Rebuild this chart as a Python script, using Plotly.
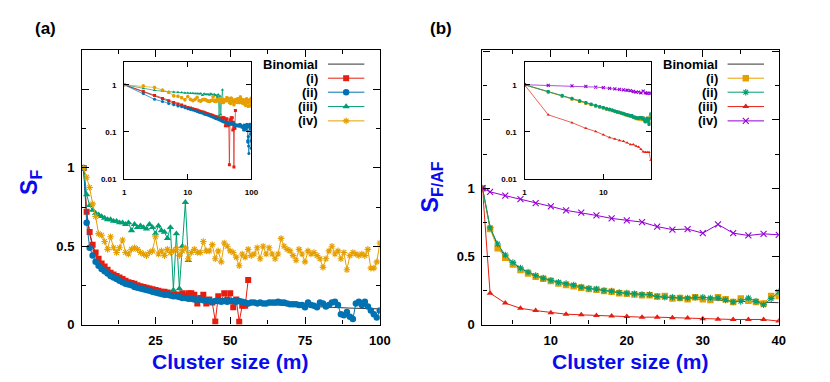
import plotly.graph_objects as go

W, H = 830, 382

# ---------------- panel (a) data ----------------
m_a = list(range(1, 101))

binom_m_a = [1, 2, 3, 4, 5, 6, 7, 8, 9, 10, 12, 14, 16, 18, 20, 25, 30, 35, 40, 50, 60, 70, 80, 90, 100]
binom_a = [1.0, 0.71, 0.58, 0.5, 0.45, 0.41, 0.38, 0.355, 0.335, 0.317, 0.29, 0.268, 0.25, 0.236, 0.224,
           0.2, 0.183, 0.169, 0.158, 0.141, 0.129, 0.12, 0.112, 0.105, 0.1]

a_i_m = list(range(1, 57))
a_i = [1.00, 0.72, 0.59, 0.51, 0.46, 0.42, 0.39, 0.37, 0.35, 0.33,
       0.32, 0.31, 0.30, 0.29, 0.28, 0.27, 0.265, 0.26, 0.25, 0.245,
       0.24, 0.235, 0.23, 0.225, 0.22, 0.215, 0.21, 0.21, 0.205, 0.20,
       0.195, 0.19, 0.19, 0.20, 0.185, 0.20, 0.20, 0.19, 0.135, 0.17,
       0.19, 0.135, 0.16, 0.14, 0.02, 0.18, 0.15, 0.20, 0.16, 0.20,
       0.11, 0.16, 0.018, 0.12, 0.12, 0.285]

a_ii = [1.00, 0.65, 0.49, 0.44, 0.40, 0.375, 0.355, 0.34, 0.325, 0.31,
        0.30, 0.29, 0.28, 0.27, 0.26, 0.255, 0.25, 0.24, 0.235, 0.23,
        0.225, 0.22, 0.215, 0.21, 0.205, 0.20, 0.195, 0.19, 0.19, 0.185,
        0.18, 0.18, 0.175, 0.17, 0.17, 0.165, 0.165, 0.16, 0.16, 0.16,
        0.155, 0.155, 0.15, 0.145, 0.15, 0.15, 0.145, 0.15, 0.145, 0.15,
        0.15, 0.145, 0.15, 0.145, 0.14, 0.135, 0.14, 0.14, 0.135, 0.14,
        0.135, 0.135, 0.14, 0.14, 0.14, 0.145, 0.14, 0.14, 0.135, 0.13,
        0.13, 0.13, 0.125, 0.125, 0.11, 0.14, 0.125, 0.12, 0.11, 0.14,
        0.135, 0.115, 0.125, 0.14, 0.145, 0.125, 0.065, 0.06, 0.08, 0.05,
        0.035, 0.135, 0.145, 0.125, 0.145, 0.115, 0.09, 0.065, 0.045, 0.09]

a_iii_m = list(range(1, 37))
a_iii = [1.00, 0.83, 0.76, 0.73, 0.71, 0.70, 0.69, 0.68, 0.67, 0.67,
         0.66, 0.66, 0.65, 0.65, 0.64, 0.65, 0.60, 0.64, 0.62, 0.63,
         0.62, 0.61, 0.64, 0.62, 0.58, 0.63, 0.60, 0.59, 0.55, 0.62,
         0.22, 0.58, 0.23, 0.50, 0.78, 0.41]

a_iv = [1.00, 0.94, 0.875, 0.77, 0.69, 0.58, 0.57, 0.53, 0.48, 0.56,
        0.49, 0.46, 0.49, 0.54, 0.46, 0.45, 0.48, 0.49, 0.48, 0.46,
        0.45, 0.44, 0.46, 0.47, 0.56, 0.45, 0.47, 0.44, 0.48, 0.46,
        0.47, 0.48, 0.44, 0.47, 0.49, 0.42, 0.46, 0.48, 0.46, 0.46,
        0.53, 0.47, 0.47, 0.51, 0.42, 0.47, 0.40, 0.52, 0.50, 0.47,
        0.46, 0.43, 0.375, 0.45, 0.43, 0.48, 0.44, 0.45, 0.49, 0.42,
        0.50, 0.45, 0.49, 0.45, 0.42, 0.45, 0.55, 0.50, 0.48, 0.47,
        0.44, 0.41, 0.48, 0.45, 0.40, 0.47, 0.45, 0.46, 0.44, 0.42,
        0.365, 0.42, 0.47, 0.50, 0.45, 0.47, 0.42, 0.46, 0.35, 0.44,
        0.46, 0.45, 0.44, 0.45, 0.44, 0.48, 0.36, 0.36, 0.40, 0.52]

# ---------------- panel (b) data ----------------
m_b = list(range(1, 41))
m_b_even = [1] + list(range(2, 41, 2))

binom_m_b = [1, 2, 3, 4, 5, 6, 8, 10, 12, 15, 20, 25, 30, 35, 40]
binom_b = [1.0, 0.71, 0.58, 0.5, 0.45, 0.41, 0.355, 0.32, 0.29, 0.26, 0.225, 0.2, 0.183, 0.17, 0.16]

b_i = [1.00, 0.70, 0.56, 0.49, 0.44, 0.40, 0.375, 0.35, 0.335, 0.32,
       0.30, 0.29, 0.28, 0.27, 0.26, 0.255, 0.245, 0.24, 0.23, 0.225,
       0.22, 0.215, 0.215, 0.205, 0.21, 0.19, 0.195, 0.185, 0.20, 0.185,
       0.18, 0.20, 0.185, 0.165, 0.19, 0.175, 0.165, 0.155, 0.21, 0.21]

b_ii = [1.00, 0.71, 0.59, 0.51, 0.455, 0.415, 0.385, 0.36, 0.34, 0.325,
        0.31, 0.30, 0.29, 0.275, 0.265, 0.26, 0.25, 0.245, 0.235, 0.23,
        0.225, 0.22, 0.22, 0.205, 0.20, 0.20, 0.195, 0.195, 0.20, 0.20,
        0.195, 0.195, 0.18, 0.165, 0.17, 0.195, 0.17, 0.145, 0.19, 0.24]

b_iii = [1.0, 0.23, 0.157, 0.119, 0.102, 0.087, 0.076, 0.071, 0.066, 0.063, 0.059,
         0.054, 0.054, 0.050, 0.048, 0.043, 0.038, 0.037, 0.037, 0.037, 0.025]

b_iv = [1.0, 0.973, 0.945, 0.92, 0.89, 0.866, 0.837, 0.82, 0.80, 0.778, 0.763,
        0.751, 0.718, 0.696, 0.70, 0.67, 0.734, 0.67, 0.653, 0.665, 0.658]

labels = ["Binomial", "(i)", "(ii)", "(iii)", "(iv)"]

RED, BLUE, GREEN, ORANGE, PURPLE, GREY = "#e51e10", "#0072b2", "#009e73", "#e69f00", "#9400d3", "#333333"
FONT = "Liberation Sans, Arial, sans-serif"
TITLE_BLUE = "#0a0aee"

# style per series: (color, symbol, main size)
style_a = [(GREY, None, 0), (RED, "square", 6), (BLUE, "circle", 6.5),
           (GREEN, "triangle-up", 6.5), (ORANGE, "asterisk-open", 5.5)]
style_b = [(GREY, None, 0), (ORANGE, "square", 6.5), (GREEN, "asterisk-open", 5.5),
           (RED, "triangle-up", 6), (PURPLE, "x-thin-open", 6)]

series_a = [(binom_m_a, binom_a), (a_i_m, a_i), (m_a, a_ii), (a_iii_m, a_iii), (m_a, a_iv)]
series_b = [(binom_m_b, binom_b), (m_b, b_i), (m_b, b_ii), (m_b_even, b_iii), (m_b_even, b_iv)]


def px(x):
    return x / W


def py(y):
    return 1 - y / H


fig = go.Figure()


def marker_style(col, sym, size):
    open_sym = sym.endswith("open")
    return dict(symbol=sym, size=size, color=col,
                line=dict(color=col, width=1.1 if open_sym else 0))


def add_series(series, styles, xa, ya, small):
    for (xs, ys), (col, sym, size) in zip(series, styles):
        lw = 0.7 if small else 1
        if sym is None:
            fig.add_trace(go.Scatter(x=xs, y=ys, mode="lines", line=dict(color=col, width=lw),
                                     xaxis=xa, yaxis=ya, showlegend=False, hoverinfo="skip"))
            continue
        msize = 3 if small else size
        fig.add_trace(go.Scatter(
            x=xs, y=ys, mode="lines+markers", line=dict(color=col, width=lw),
            marker=marker_style(col, sym, msize),
            xaxis=xa, yaxis=ya, showlegend=False, hoverinfo="skip"))


add_series(series_a, style_a, "x", "y", False)
add_series(series_b, style_b, "x2", "y2", False)
add_series(series_a, style_a, "x3", "y3", True)
add_series(series_b, style_b, "x4", "y4", True)


def note(text, x, y, size, color="black", xanchor="center", angle=0):
    return dict(x=px(x), y=py(y), xref="paper", yref="paper", text=text, showarrow=False,
                xanchor=xanchor, yanchor="middle", textangle=angle,
                font=dict(family=FONT, size=size, color=color))


# custom legends (text left, sample right), drawn on an overlay pixel axis
leg_rows = [57.3, 71.7, 86.0, 100.7, 115.3]
annotations = []
for text_x, line_x0, line_x1, styles in [(315, 323, 360, style_a), (721, 729, 766, style_b)]:
    for row_y, lab, (col, sym, size) in zip(leg_rows, labels, styles):
        annotations.append(note("<b>%s</b>" % lab, text_x, row_y, 13, xanchor="right"))
        fig.add_trace(go.Scatter(x=[line_x0, line_x1], y=[row_y, row_y], mode="lines",
                                 line=dict(color=col, width=1), xaxis="x5", yaxis="y5",
                                 showlegend=False, hoverinfo="skip"))
        if sym is not None:
            fig.add_trace(go.Scatter(x=[(line_x0 + line_x1) / 2], y=[row_y], mode="markers",
                                     marker=marker_style(col, sym, size),
                                     xaxis="x5", yaxis="y5", showlegend=False, hoverinfo="skip"))

# panel letters, axis titles
annotations.append(note("<b>(a)</b>", 36, 21, 17))
annotations.append(note("<b>(b)</b>", 438, 21, 17))
for x in [224, 630]:
    annotations.append(note("<b>Cluster size (m)</b>", x, 361, 21, TITLE_BLUE))
annotations.append(note("<b>S<sub>F</sub></b>", 21, 178, 23, TITLE_BLUE, angle=-90))
annotations.append(note("<b>S<sub>F/AF</sub></b>", 428, 183, 23, TITLE_BLUE, angle=-90))

tick_font = dict(family=FONT, size=13, color="black", weight="bold")
small_font = dict(family=FONT, size=8, color="black", weight="bold")


def lin_axis(dom, rng, vals, text, minor_vals, anchor):
    return dict(domain=dom, range=rng, anchor=anchor, tickmode="array", tickvals=vals, ticktext=text,
                ticks="inside", ticklen=7, tickwidth=1, tickcolor="black", mirror="allticks",
                showline=True, linecolor="black", linewidth=1.2, showgrid=False, zeroline=False,
                tickfont=tick_font, ticklabelstandoff=4,
                minor=dict(tickvals=minor_vals, ticks="inside", ticklen=4, tickcolor="black",
                           tickwidth=1, showgrid=False))


def log_axis(dom, rng, vals, text, anchor):
    return dict(domain=dom, range=rng, type="log", anchor=anchor, tickmode="array", tickvals=vals,
                ticktext=text, ticks="inside", ticklen=5, tickwidth=1, tickcolor="black",
                mirror="allticks", showline=True, linecolor="black", linewidth=1.2, showgrid=False,
                zeroline=False, tickfont=small_font, ticklabelstandoff=5)


MAIN_Y = [py(323.3), py(43.3)]
INS_Y = [py(174.7), py(55)]

fig.update_layout(
    width=W, height=H, margin=dict(l=0, r=0, t=0, b=0),
    paper_bgcolor="white", plot_bgcolor="rgba(0,0,0,0)", showlegend=False,
    xaxis=lin_axis([px(73.3), px(375.7)], [0.5, 100], [25, 50, 75, 100], ["25", "50", "75", "100"],
                   [12.5, 37.5, 62.5, 87.5], "y"),
    yaxis=lin_axis(MAIN_Y, [0, 1.75], [0, 0.5, 1, 1.5], ["0", "0.5", "1", ""],
                   [0.25, 0.75, 1.25], "x"),
    xaxis2=lin_axis([px(480), px(781)], [1, 40], [10, 20, 30, 40], ["10", "20", "30", "40"],
                    [5, 15, 25, 35], "y2"),
    yaxis2=lin_axis(MAIN_Y, [0, 2.01], [0, 0.5, 1, 1.5, 2], ["0", "0.5", "1", "", ""],
                    [0.25, 0.75, 1.25, 1.75], "x2"),
    xaxis3=log_axis([px(116), px(245.3)], [0, 2], [1, 10, 100], ["1", "10", "100"], "y3"),
    yaxis3=log_axis(INS_Y, [-2, 0.485], [0.01, 0.1, 1], ["0.01", "0.1", "1"], "x3"),
    xaxis4=log_axis([px(522.7), px(651)], [0, 1.602], [1, 10], ["1", "10"], "y4"),
    yaxis4=log_axis(INS_Y, [-2, 0.485], [0.01, 0.1, 1], ["0.01", "0.1", "1"], "x4"),
    xaxis5=dict(domain=[0, 1], range=[0, W], visible=False, anchor="y5", fixedrange=True),
    yaxis5=dict(domain=[0, 1], range=[H, 0], visible=False, anchor="x5", fixedrange=True),
    annotations=annotations,
)

fig.write_html("out.html")
